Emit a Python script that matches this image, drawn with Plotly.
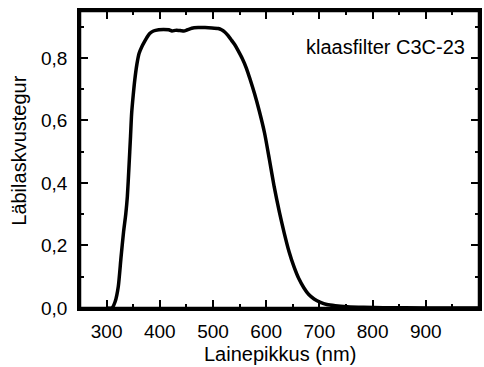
import plotly.graph_objects as go

wavelength = [300, 310, 316, 322, 327, 332, 336, 339, 342, 345, 347, 350, 353, 357, 361, 366, 371, 376, 381, 388, 398, 407, 417, 423, 429, 435, 440, 445, 452, 460, 472, 485, 498, 510, 516, 522, 528, 535, 541, 547, 555, 563, 570, 578, 587, 597, 606, 615, 625, 634, 643, 652, 661, 671, 680, 690, 702, 714, 730, 752, 783, 820, 900, 1000]
transmittance = [0.0, 0.0, 0.02, 0.069, 0.16, 0.245, 0.30, 0.356, 0.45, 0.55, 0.62, 0.68, 0.73, 0.78, 0.814, 0.835, 0.851, 0.866, 0.878, 0.886, 0.890, 0.891, 0.890, 0.886, 0.888, 0.888, 0.887, 0.886, 0.890, 0.895, 0.897, 0.897, 0.896, 0.894, 0.890, 0.883, 0.872, 0.856, 0.842, 0.824, 0.798, 0.766, 0.730, 0.686, 0.630, 0.559, 0.475, 0.388, 0.305, 0.239, 0.180, 0.133, 0.095, 0.064, 0.043, 0.029, 0.018, 0.011, 0.007, 0.004, 0.002, 0.001, 0.0, 0.0]

x_ticks = [300, 400, 500, 600, 700, 800, 900]
y_ticks = [0.0, 0.2, 0.4, 0.6, 0.8]
y_tick_labels = ["0,0", "0,2", "0,4", "0,6", "0,8"]
x_range = [250, 1000]
y_range = [0, 0.95]

font_family = "Liberation Sans, Arial, sans-serif"

fig = go.Figure()
fig.add_trace(go.Scatter(
    x=wavelength, y=transmittance, mode="lines",
    line=dict(color="black", width=3.5, shape="spline", smoothing=0.6),
    showlegend=False, hoverinfo="skip",
))

axis_common = dict(
    showline=True, linecolor="black", linewidth=2.5, mirror="ticks",
    ticks="inside", ticklen=8, tickwidth=2, tickcolor="black",
    showgrid=False, zeroline=False,
    tickfont=dict(family=font_family, size=19, color="black"),
)
x_minor = dict(dtick=50, tick0=250, ticks="inside", ticklen=4, tickwidth=2, tickcolor="black")
y_minor = dict(dtick=0.1, tick0=0, ticks="inside", ticklen=4, tickwidth=2, tickcolor="black")

fig.update_layout(
    width=484, height=367,
    margin=dict(l=80, r=2, t=11, b=59),
    paper_bgcolor="white", plot_bgcolor="white",
    xaxis=dict(range=x_range, tickvals=x_ticks, minor=x_minor,
               ticklabelstandoff=4, **axis_common),
    yaxis=dict(range=y_range, tickvals=y_ticks, ticktext=y_tick_labels, minor=y_minor,
               ticklabelstandoff=6, **axis_common),
    shapes=[dict(type="rect", xref="paper", yref="paper", x0=0, x1=1, y0=0, y1=1,
                 line=dict(color="black", width=2.5), fillcolor="rgba(0,0,0,0)", layer="above")],
    annotations=[
        dict(text="klaasfilter C3C-23", x=0.97, y=0.88, xref="paper", yref="paper",
             xanchor="right", yanchor="middle", showarrow=False,
             font=dict(family=font_family, size=20, color="black")),
        dict(text="Lainepikkus (nm)", x=0.5, y=-0.155, xref="paper", yref="paper",
             xanchor="center", yanchor="middle", showarrow=False,
             font=dict(family=font_family, size=20, color="black")),
        dict(text="Läbilaskvustegur", x=-0.155, y=0.53, xref="paper", yref="paper",
             xanchor="center", yanchor="middle", showarrow=False, textangle=-90,
             font=dict(family=font_family, size=20, color="black")),
    ],
)

fig.write_html("out.html", config={"displayModeBar": False},
               post_script="document.documentElement.style.overflow='hidden';document.body.style.overflow='hidden';document.body.style.margin='0';document.body.style.padding='0';")
